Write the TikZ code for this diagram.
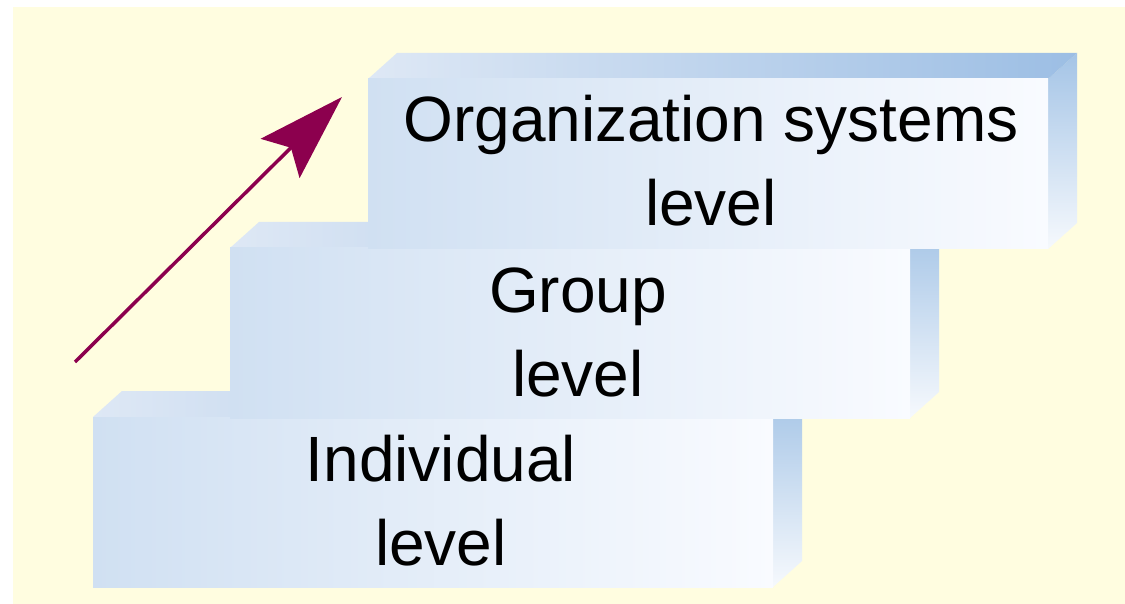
\documentclass[tikz,border=0pt]{standalone}
\usepackage{fontspec}
\setmainfont{Liberation Sans}
\usetikzlibrary{arrows.meta}
\definecolor{cream}{RGB}{255,253,224}
\definecolor{faceleft}{RGB}{208,224,242}
\definecolor{faceright}{RGB}{249,251,255}
\definecolor{topleft}{RGB}{222,232,245}
\definecolor{topright}{RGB}{156,190,228}
\definecolor{sidetop}{RGB}{164,196,230}
\definecolor{sidebottom}{RGB}{246,249,253}
\definecolor{arrowred}{RGB}{140,0,78}
\begin{document}
\begin{tikzpicture}[x=1pt,y=-1pt,
  frontface/.style={left color=faceleft,right color=faceright},
  topface/.style={left color=topleft,right color=topright},
  sideface/.style={top color=sidetop,bottom color=sidebottom},
  levellabel/.style={align=center,inner sep=0pt,font=\fontsize{64}{84}\selectfont},
  uparrow/.style={draw=arrowred,line width=3.5pt,-{Stealth[length=87pt,width=55pt,inset=15pt]}}]
\useasboundingbox (0,0) rectangle (1125,604);
\fill[white] (-5,-5) rectangle (1130,610);
\fill[cream] (13,7) rectangle (1130,610);

% 底层:个人
\begin{scope}[shift={(93,417)}]
\shade[sideface] (680,0) -- ++(29,-26) -- ++(0,170) -- (680,170) -- cycle;
\shade[topface] (0,0) -- ++(29,-26) -- ++(680,0) -- (680,0) -- cycle;
\shade[frontface] (0,0) rectangle (680,170);
\node[levellabel] (individual) at (348,84) {Individual\\level};
\end{scope}

% 中层:群体
\begin{scope}[shift={(230,248)}]
\shade[sideface] (680,0) -- ++(29,-26) -- ++(0,170) -- (680,170) -- cycle;
\shade[topface] (0,0) -- ++(29,-26) -- ++(680,0) -- (680,0) -- cycle;
\shade[frontface] (0,0) rectangle (680,170);
\node[levellabel] (group) at (348,84) {Group\\level};
\end{scope}

% 顶层:组织系统
\begin{scope}[shift={(368,79)}]
\shade[sideface] (680,0) -- ++(29,-26) -- ++(0,170) -- (680,170) -- cycle;
\shade[topface] (0,0) -- ++(29,-26) -- ++(680,0) -- (680,0) -- cycle;
\shade[frontface] (0,0) rectangle (680,170);
\node[levellabel] (organization) at (343,82) {Organization systems\\level};
\end{scope}

% 上升箭头
\coordinate (arrtail) at (75,362);
\coordinate (arrtip) at (342,97);
\draw[uparrow] (arrtail) -- (arrtip);
\end{tikzpicture}
\end{document}
